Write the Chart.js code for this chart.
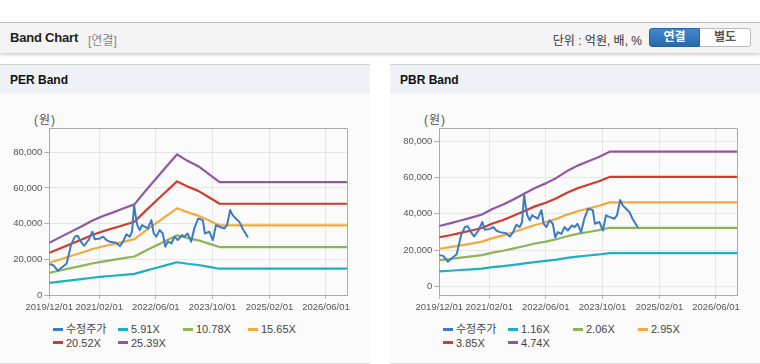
<!DOCTYPE html>
<html><head><meta charset="utf-8">
<script src="https://cdn.jsdelivr.net/npm/chart.js@4.4.1/dist/chart.umd.min.js"></script>
<style>
*{margin:0;padding:0;box-sizing:border-box}
body{width:760px;height:364px;background:#fff;position:relative;overflow:hidden;font-family:'Liberation Sans',Arial,'Noto Sans CJK KR',sans-serif;}
.hdr{position:absolute;left:0;top:22px;width:760px;height:31px;background:#f4f4f4;border-top:1px solid #bdbdbd;box-shadow:0 2px 3px rgba(0,0,0,0.18);}
.hdr .t{position:absolute;left:10px;top:7px;font-size:13px;font-weight:bold;color:#222;letter-spacing:-0.2px}
.hdr .s{position:absolute;left:88px;top:8px;font-size:12px;color:#888}
.hdr .u{position:absolute;right:118px;top:8px;font-size:12px;color:#333}
.btn{position:absolute;top:5px;height:19px;width:51px;font-size:12px;font-weight:bold;text-align:center;line-height:17px}
.b1{left:649px;background:linear-gradient(#4288ce,#2a68ac);color:#fff;border:1px solid #2b62a0;border-radius:3px 0 0 3px}
.b2{left:700px;background:#fff;color:#555;border:1px solid #bbb;border-left:none;border-radius:0 3px 3px 0}
.panel{position:absolute;top:64px;height:300px;width:370px;border-top:1px solid #d5d5d5;border-bottom:1px solid #dcdcdc;background:#fbfbfb}
.ptitle{height:28px;background:#eef1f6;font-size:12px;font-weight:bold;color:#111;padding-left:10px;line-height:30px}
.unit{position:absolute;top:110px;font-size:12px;color:#555;letter-spacing:1px}
canvas{position:absolute;top:100px}
.legend{position:absolute;top:323px;display:grid;grid-template-columns:65px 65px 65px 65px;grid-auto-rows:13.5px;font-size:11px;color:#444}
.legend div{white-space:nowrap;line-height:13.5px}
.legend i{display:inline-block;width:10px;height:3px;vertical-align:middle;margin-right:3px;position:relative;top:-1px}
</style></head>
<body>
<div class="hdr">
  <span class="t">Band Chart</span><span class="s">[연결]</span>
  <span class="u">단위 : 억원, 배, %</span>
  <div class="btn b1">연결</div><div class="btn b2">별도</div>
</div>
<div class="panel" style="left:0"><div class="ptitle">PER Band</div></div>
<div class="panel" style="left:390px"><div class="ptitle">PBR Band</div></div>
<div class="unit" style="left:34px">(원)</div>
<div class="unit" style="left:424px">(원)</div>
<canvas id="per" width="370" height="220" style="left:0"></canvas>
<canvas id="pbr" width="370" height="220" style="left:390px"></canvas>
<div class="legend" id="perLegend" style="left:53px"></div>
<div class="legend" id="pbrLegend" style="left:443px"></div>
<script>
// ---- data ----
const xTickLabels = ['2019/12/01','2021/02/01','2022/06/01','2023/10/01','2025/02/01','2026/06/01'];
const xStart = '2019/12/01';
const xEnd = '2026/12/01';
const yTickValues = [0, 20000, 40000, 60000, 80000];

const priceName = '수정주가';
const priceDates = ['2019/12/01','2020/01/04','2020/02/12','2020/03/15','2020/04/28','2020/05/15','2020/06/04','2020/07/07','2020/08/01','2020/08/28',
  '2020/09/25','2020/11/01','2020/12/04','2020/12/25','2021/02/07','2021/03/07','2021/04/04','2021/05/02','2021/06/28','2021/07/28',
  '2021/08/25','2021/09/22','2021/10/22','2021/11/10','2021/11/28','2021/12/10','2021/12/25','2022/01/15','2022/02/04','2022/02/27',
  '2022/03/25','2022/04/25','2022/05/15','2022/06/07','2022/07/04','2022/08/01','2022/08/22','2022/09/13','2022/10/13','2022/11/10',
  '2022/12/07','2023/01/12','2023/02/04','2023/03/01','2023/04/01','2023/04/28','2023/06/01','2023/07/10','2023/07/28','2023/09/04',
  '2023/10/04','2023/11/01','2023/11/28','2024/01/12','2024/02/03','2024/03/01','2024/03/22','2024/04/19','2024/05/19','2024/06/15','2024/07/28'];
const priceValues = [17200,16800,13600,15300,17700,22400,28000,32700,33200,29900,
  27600,30800,35500,31200,31700,32700,30800,29900,29300,27400,
  29900,34000,32700,35500,50400,44800,39200,36400,39200,38300,
  37300,42000,34500,32700,36400,34500,27000,29900,28900,32700,
  30800,33600,32700,34500,29900,37300,42900,42000,34500,35500,
  30800,39200,38300,37300,39200,47600,44800,42900,41000,37300,32700];

const bandDates = ['2019/12/01','2020/03/01','2020/06/01','2020/09/01','2020/12/01','2021/03/01','2021/06/01','2021/09/01','2021/12/01',
  '2022/03/01','2022/06/01','2022/09/01','2022/12/01','2023/03/01','2023/06/01','2023/09/01','2023/12/01','2026/12/01'];

const perNames = ['5.91X','10.78X','15.65X','20.52X','25.39X'];
const per591  = [6820,7520,8240,8940,9680,10270,10780,11310,11830,13500,15130,16760,18340,17510,16810,15780,14730,14730];
const per1078 = [12440,13710,15030,16300,17660,18720,19660,20630,21570,24620,27600,30570,33460,31930,30660,28780,26870,26870];
const per1565 = [18060,19910,21820,23660,25630,27180,28550,29950,31320,35740,40060,44380,48580,46360,44510,41790,39020,39020];
const per2052 = [23680,26100,28600,31030,33610,35640,37430,39270,41060,46870,52530,58190,63690,60780,58360,54790,51160,51160];
const per2539 = [29300,32300,35390,38390,41590,44100,46310,48600,50810,57990,65000,72000,78810,75200,72210,67790,63300,63300];

const pbrNames = ['1.16X','2.06X','2.95X','3.85X','4.74X'];
const pbr116 = [8250,8590,8990,9370,9790,10550,11140,11870,12630,13390,14000,14730,15660,16400,16990,17570,18300,18300];
const pbr206 = [14470,15080,15780,16470,17210,18560,19600,20900,22250,23600,24690,25990,27640,28950,29990,31030,32290,32290];
const pbr295 = [20720,21590,22600,23590,24640,26570,28070,29940,31870,33800,35350,37220,39580,41450,42940,44440,46340,46340];
const pbr385 = [27050,28180,29490,30780,32160,34680,36630,39070,41590,44110,46130,48570,51660,54100,56040,57990,60350,60350];
const pbr474 = [33300,34700,36300,37900,39600,42700,45100,48100,51200,54300,56800,59800,63600,66600,69000,71400,74300,74300];

const colors = ['#3a7bc8','#1cb0c2','#8db457','#f3a93b','#d23a2c','#9257a0'];

// ---- helpers ----
function day(s){const p=s.split('/').map(Number);return Date.UTC(p[0],p[1]-1,p[2])/86400000;}
function pts(dates, vals){return dates.map((d,i)=>({x:day(d),y:vals[i]}));}
const tickFont = {family:"'Liberation Sans',Arial,sans-serif", size:9.5};

const borderPlugin = {
  id:'box',
  afterDraw(chart){
    const a=chart.chartArea, c=chart.ctx;
    c.save(); c.strokeStyle='#aaaaaa'; c.lineWidth=1;
    c.beginPath();
    c.moveTo(Math.round(a.left)+0.5, Math.round(a.top)+0.5);
    c.lineTo(Math.round(a.right)+0.5, Math.round(a.top)+0.5);
    c.lineTo(Math.round(a.right)+0.5, Math.round(a.bottom)+0.5);
    c.stroke(); c.restore();
  }
};

function makeChart(id, legendId, bandNames, bands, yMin, yMax){
  const names=[priceName].concat(bandNames);
  const datasets=[{label:priceName,data:pts(priceDates,priceValues),borderColor:colors[0],borderWidth:2}];
  bands.forEach((b,i)=>datasets.push({label:bandNames[i],data:pts(bandDates,b),borderColor:colors[i+1],borderWidth:2.2}));
  new Chart(document.getElementById(id),{
    type:'line',
    data:{datasets},
    plugins:[borderPlugin],
    options:{
      responsive:false,animation:false,devicePixelRatio:1,
      layout:{padding:{left:0,right:22.7,top:28.3,bottom:0}},
      elements:{point:{radius:0},line:{tension:0,borderCapStyle:'round',borderJoinStyle:'round'}},
      plugins:{legend:{display:false},tooltip:{enabled:false}},
      scales:{
        x:{type:'linear',min:day(xStart),max:day(xEnd),
          afterBuildTicks:s=>{s.ticks=xTickLabels.map(l=>({value:day(l)}));},
          afterFit:s=>{s.height=25;s.paddingLeft=0;s.paddingRight=0;},
          ticks:{autoSkip:false,maxRotation:0,color:'#555',font:tickFont,padding:3,
            callback:(v,i)=>xTickLabels[i]},
          grid:{color:'#e6e6e6',tickLength:4,tickColor:'#bbbbbb'},
          border:{color:'#aaaaaa'}},
        y:{type:'linear',min:yMin,max:yMax,
          afterBuildTicks:s=>{s.ticks=yTickValues.map(v=>({value:v}));},
          afterFit:s=>{s.width=49.3;s.paddingTop=0;s.paddingBottom=0;},
          ticks:{color:'#555',font:tickFont,padding:2,
            callback:v=>Number(v).toLocaleString('en-US')},
          grid:{color:'#e6e6e6',tickLength:5,tickColor:'#aaaaaa'},
          border:{color:'#aaaaaa'}}
      }
    }
  });
  const lg=document.getElementById(legendId);
  names.forEach((n,i)=>{
    const d=document.createElement('div');
    const m=document.createElement('i'); m.style.background=colors[i];
    d.appendChild(m); d.appendChild(document.createTextNode(n));
    lg.appendChild(d);
  });
}

makeChart('per','perLegend',perNames,[per591,per1078,per1565,per2052,per2539],0,93450);
makeChart('pbr','pbrLegend',pbrNames,[pbr116,pbr206,pbr295,pbr385,pbr474],-4800,87200);
</script>
</body></html>
